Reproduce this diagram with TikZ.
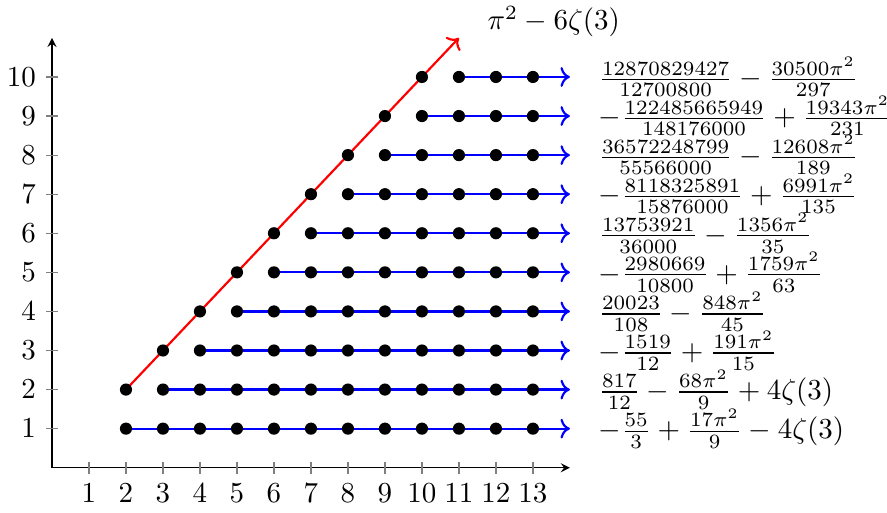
\documentclass[tikz,border=0pt]{standalone}
\usepackage{amsmath,amssymb}
\usetikzlibrary{arrows.meta}

\begin{document}
\begin{tikzpicture}[x=0.4486cm, y=0.4738cm,
    dot/.style={circle, fill=black, inner sep=0pt, minimum size=4.2pt},
    ray/.style={->, line width=0.75pt, draw=blue},
    diag/.style={->, line width=0.75pt, draw=red},
    axtick/.style={gray, thin}]
    \useasboundingbox (-1.405,-1.151) rectangle (22.57,11.97);

    % Assi
    \coordinate (O) at (0,0);
    \coordinate (xend) at (14,0);
    \coordinate (yend) at (0,11);
    \draw[-stealth] (O) -- (xend);
    \draw[-stealth] (O) -- (yend);

    % Tacche asse x
    \foreach \k in {1,...,13}
      \draw[axtick] (\k,0) ++(0,2pt) -- ++(0,-4pt) node[below, text=black] (xl-\k) {$\k$};
    % Tacche asse y
    \foreach \n in {1,...,10}
      \draw[axtick] (0,\n) ++(2pt,0) -- ++(-4pt,0) node[left, text=black] (yl-\n) {$\n$};

    % Righe orizzontali
    \foreach \n [evaluate=\n as \s using int(\n+1)] in {1,...,10} {
      \coordinate (a-\n) at (\s,\n);
      \coordinate (e-\n) at (14,\n);
      \draw[ray] (a-\n) -- (e-\n);
      \foreach \k in {\s,...,13}
        \node[dot] (d-\n-\k) at (\k,\n) {};
    }

    % Diagonale
    \coordinate (r0) at (2,2);
    \coordinate (r1) at (11,11);
    \draw[diag] (r0) -- (r1);
    \foreach \n in {2,...,10}
      \node[dot] (g-\n) at (\n,\n) {};
    \node[anchor=west] (lred) at (11.5,11.42) {$\pi^2-6\zeta(3)$};

    % Valori
    \foreach \n/\lab in {
        10/{\frac{12870829427}{12700800}-\frac{30500\pi^2}{297}},
        9/{-\frac{122485665949}{148176000}+\frac{19343\pi^2}{231}},
        8/{\frac{36572248799}{55566000}-\frac{12608\pi^2}{189}},
        7/{-\frac{8118325891}{15876000}+\frac{6991\pi^2}{135}},
        6/{\frac{13753921}{36000}-\frac{1356\pi^2}{35}},
        5/{-\frac{2980669}{10800}+\frac{1759\pi^2}{63}},
        4/{\frac{20023}{108}-\frac{848\pi^2}{45}},
        3/{-\frac{1519}{12}+\frac{191\pi^2}{15}},
        2/{\frac{817}{12}-\frac{68\pi^2}{9}+4\zeta(3)},
        1/{-\frac{55}{3}+\frac{17\pi^2}{9}-4\zeta(3)}}
      \node[anchor=west] (v-\n) at (14.5,\n) {$\lab$};
\end{tikzpicture}
\end{document}
